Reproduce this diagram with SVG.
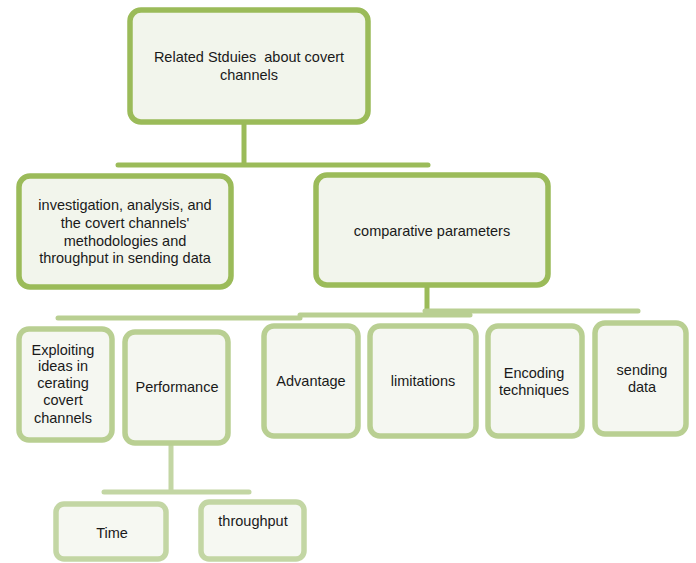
<svg xmlns="http://www.w3.org/2000/svg" width="696" height="563" viewBox="0 0 696 563">
<style>
text{font-family:"Liberation Sans","Open Sans",Arial,sans-serif;font-size:14.5px;fill:#1a1a1a;text-anchor:middle}
.n1 rect{fill:#f2f5ec;stroke:#9bbb59;stroke-width:5.5}
.n3 rect{fill:#f5f7f1;stroke:#b9cf92;stroke-width:5.5}
.n4 rect{fill:#f6f8f2;stroke:#c3d6a4;stroke-width:5.5}
.c1{stroke:#9bbb59;stroke-width:5;fill:none;stroke-linecap:round}
.c3{stroke:#b9cf92;stroke-width:5;fill:none;stroke-linecap:round}
.c4{stroke:#c3d6a4;stroke-width:5;fill:none;stroke-linecap:round}
</style>
<rect width="696" height="563" fill="#ffffff"/>
<g id="connectors">
<line class="c1" x1="244" y1="122" x2="244" y2="164"/>
<line class="c1" x1="118" y1="165" x2="428" y2="165"/>
<line class="c1" x1="427" y1="287" x2="427" y2="311"/>
<line class="c3" x1="58" y1="318" x2="300" y2="318"/>
<line class="c3" x1="300" y1="315" x2="470" y2="315"/>
<line class="c3" x1="425" y1="311" x2="638" y2="311"/>
<line class="c4" x1="171" y1="445" x2="171" y2="491"/>
<line class="c4" x1="104" y1="492" x2="249" y2="492"/>
</g>
<g id="n-root" class="n1">
<rect x="130" y="10" width="238" height="112" rx="11"/>
<text x="249" y="62" xml:space="preserve">Related Stduies  about covert</text>
<text x="249" y="80">channels</text>
</g>
<g id="n-investigation" class="n1">
<rect x="19" y="176" width="212" height="111" rx="11"/>
<text x="125" y="210">investigation, analysis, and</text>
<text x="125" y="228">the covert channels'</text>
<text x="125" y="246">methodologies and</text>
<text x="125" y="263">throughput in sending data</text>
</g>
<g id="n-comparative" class="n1">
<rect x="316" y="175" width="232" height="110" rx="11"/>
<text x="432" y="236">comparative parameters</text>
</g>
<g id="n-exploiting" class="n3">
<rect x="19" y="329" width="93" height="111" rx="10"/>
<text x="63" y="355">Exploiting</text>
<text x="63" y="371">ideas in</text>
<text x="63" y="388">cerating</text>
<text x="63" y="405">covert</text>
<text x="63" y="423">channels</text>
</g>
<g id="n-performance" class="n3">
<rect x="125" y="332" width="103" height="111" rx="10"/>
<text x="177" y="392">Performance</text>
</g>
<g id="n-advantage" class="n3">
<rect x="264" y="326" width="94" height="110" rx="10"/>
<text x="311" y="386">Advantage</text>
</g>
<g id="n-limitations" class="n3">
<rect x="370" y="326" width="106" height="110" rx="10"/>
<text x="423" y="386">limitations</text>
</g>
<g id="n-encoding" class="n3">
<rect x="488" y="326" width="94" height="110" rx="10"/>
<text x="534" y="378">Encoding</text>
<text x="534" y="395">techniques</text>
</g>
<g id="n-sending" class="n3">
<rect x="595" y="323" width="91" height="111" rx="10"/>
<text x="642" y="375">sending</text>
<text x="642" y="392">data</text>
</g>
<g id="n-time" class="n4">
<rect x="56" y="504" width="110" height="55" rx="8"/>
<text x="112" y="538">Time</text>
</g>
<g id="n-throughput" class="n4">
<rect x="201" y="502" width="103" height="57" rx="8"/>
<text x="253" y="526">throughput</text>
</g>
</svg>
